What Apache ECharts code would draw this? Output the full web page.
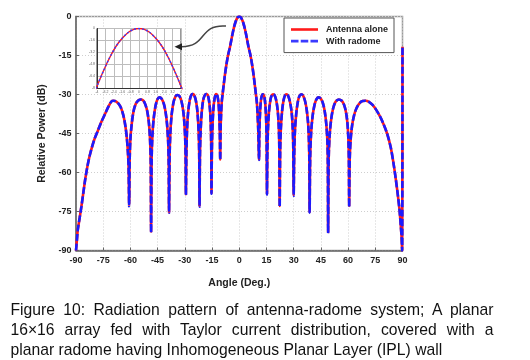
<!DOCTYPE html>
<html>
<head>
<meta charset="utf-8">
<script src="https://cdn.jsdelivr.net/npm/echarts@6/dist/echarts.min.js"></script>
<style>
html,body{margin:0;padding:0;background:#fff;}
#wrap{position:relative;width:530px;height:360px;overflow:hidden;}
#chart{position:absolute;left:0;top:0;width:530px;height:360px;}
.cap{position:absolute;left:10.5px;width:483px;font-family:"Liberation Sans",Arial,sans-serif;font-size:15.7px;line-height:20px;color:#111;white-space:nowrap;}
.just{text-align:justify;text-align-last:justify;white-space:normal;}
</style>
</head>
<body>
<div id="wrap">
<div id="chart"></div>
<div class="cap just" style="top:300px;">Figure 10: Radiation pattern of antenna-radome system; A planar</div>
<div class="cap just" style="top:320px;">16×16 array fed with Taylor current distribution, covered with a</div>
<div class="cap" style="top:339.5px;">planar radome having Inhomogeneous Planar Layer (IPL) wall</div>
</div>
<script>
const seriesNames = ['Antenna alone', 'With radome'];
const xTickValues = [-90, -75, -60, -45, -30, -15, 0, 15, 30, 45, 60, 75, 90];
const yTickValues = [0, -15, -30, -45, -60, -75, -90];

const angles = [
-90,-89.5,-89,-88,-87,-86,-85,-84,-83,-82,-80,-78,-76,-74,-72,-70.5,-69.4,-68,-66.5,-65,-63.8,-62.8,-62,-61.4,-61,-60.7,
-60.4,-60,-59.3,-58.3,-57,-55.5,-54.3,-53,-51.8,-50.7,-49.8,-49.2,-48.8,-48.6,
-48.3,-47.9,-47.2,-46.2,-45.1,-44,-42.8,-41.6,-40.6,-39.8,-39.2,-38.9,-38.7,
-38.4,-38,-37.3,-36.3,-35.2,-34.1,-33,-31.9,-31,-30.3,-29.8,-29.55,-29.4,
-29.15,-28.8,-28.2,-27.3,-26.5,-25.8,-25,-24.1,-23.3,-22.7,-22.25,-22.05,-21.9,
-21.65,-21.3,-20.7,-19.9,-19,-18.2,-17.4,-16.7,-16.1,-15.7,-15.45,-15.3,
-15.1,-14.8,-14.3,-13.6,-12.7,-12,-11.4,-11,-10.7,-10.5,
-10.3,-10,-9.6,-9.2,-8.6,-8,-7.3,-6.6,-6,-5.3,-4.6,-4,-3.4,-2.8,-2.2,-1.6,-1,-0.5,0,
0.5,1,1.6,2.2,2.8,3.4,4,4.6,5.3,6,6.6,7.3,8,8.6,9.2,9.7,10.1,10.5,10.9,
11.1,11.5,12.1,13,13.8,14.4,14.85,15.1,15.3,
15.5,15.85,16.4,17.2,18,18.7,19.5,20.3,21.1,21.7,22.05,22.3,
22.55,22.95,23.6,24.4,25.2,26,26.9,27.8,28.7,29.35,29.75,30,
30.3,30.7,31.4,32.3,33.2,34.2,35.2,36.2,37.1,37.9,38.4,38.65,38.8,
39.1,39.6,40.4,41.5,42.6,43.8,45,46.2,47.2,48,48.6,48.85,49,
49.3,49.8,50.6,51.7,53.1,54.9,56.5,57.8,58.9,59.7,60.2,60.45,60.6,
60.9,61.4,62.2,63.3,64.8,66.5,68,69.6,71.5,73.5,75.5,77.5,79.5,81.5,83.5,85,86.3,87.4,88.3,89,89.5,89.8,90
];

const antennaAlone = [
-90,-86,-82,-77.5,-73,-68,-63,-58.8,-55.2,-52.3,-47.5,-44,-40.5,-37.5,-34.5,-32.7,-32.4,-32.6,-33.6,-35.5,-38.3,-42,-46.5,-52,-58,-72.5,
-55,-47,-41.5,-36.5,-33.5,-32.2,-31.9,-32.3,-33.8,-36.5,-41,-47,-56,-82.8,
-55,-46,-39.5,-34.5,-31.8,-31.1,-31.6,-33.5,-36.8,-41.5,-48,-56,-75.3,
-54,-45,-38,-33.2,-30.8,-30.2,-30.6,-32.5,-35.8,-40.5,-47,-55,-68.4,
-53,-44,-37,-32.2,-30.3,-29.8,-30.1,-31.8,-35,-40,-47,-55,-72.9,
-53,-44,-37,-32.2,-30.3,-29.8,-30.2,-32.2,-36,-41.5,-50,-68,
-52,-43,-36,-31.5,-29.8,-30.6,-33.5,-38.5,-45,-55,
-44,-37.5,-32.5,-30,-26.5,-23,-19.5,-16.5,-14.3,-12.3,-9.9,-7.7,-5.7,-3.9,-2.4,-1.3,-0.5,-0.12,0,
-0.12,-0.5,-1.3,-2.4,-3.9,-5.7,-7.7,-9.9,-12.3,-14.3,-16.5,-19.5,-23,-26.5,-30,-33,-37.5,-44,-55,
-44,-36.5,-31.5,-29.9,-30.8,-34,-40,-48,-68.3,
-52,-43,-36.5,-32,-30.2,-29.9,-30.3,-32,-35.5,-41,-49,-72.9,
-52,-43,-36.5,-32.3,-30.4,-29.9,-30.4,-32.3,-35.8,-41,-49,-68.7,
-53,-44,-37.5,-32.8,-30.6,-29.9,-30.4,-32.3,-35.5,-40.5,-47.5,-56,-75.3,
-54,-45,-38.5,-34,-31.8,-31.1,-31.6,-33.5,-36.8,-41.5,-48,-57,-83,
-55,-46,-40,-35.5,-32.8,-31.9,-32.4,-34,-37,-41.5,-48,-56,-72.9,
-55,-47.5,-42,-38,-35,-33.2,-32.5,-32.4,-32.8,-34,-35.9,-38.3,-41.3,-45,-50.3,-56.3,-62.5,-68.5,-74,-80,-85,-90,-11.6
];

const withRadome = [
-90,-86,-82,-77.5,-73,-68,-63,-58.8,-55.2,-52.3,-47.5,-44,-40.5,-37.5,-34.5,-32.7,-32.4,-32.6,-33.6,-35.5,-38.3,-42,-46.5,-52,-58,-73,
-55,-47,-41.5,-36.5,-33.5,-32.2,-31.9,-32.3,-33.8,-36.5,-41,-47,-56,-83.2,
-55,-46,-39.5,-34.5,-31.8,-31.1,-31.6,-33.5,-36.8,-41.5,-48,-56,-75.5,
-54,-45,-38,-33.2,-30.8,-30.2,-30.6,-32.5,-35.8,-40.5,-47,-55,-68.6,
-53,-44,-37,-32.2,-30.3,-29.8,-30.1,-31.8,-35,-40,-47,-55,-73.2,
-53,-44,-37,-32.2,-30.3,-29.8,-30.2,-32.2,-36,-41.5,-50,-68.2,
-52,-43,-36,-31.5,-29.8,-30.6,-33.5,-38.5,-45,-55.2,
-44,-37.5,-32.5,-30,-26.5,-23,-19.5,-16.5,-14.3,-12.3,-9.9,-7.7,-5.7,-3.9,-2.4,-1.3,-0.5,-0.12,0,
-0.12,-0.5,-1.3,-2.4,-3.9,-5.7,-7.7,-9.9,-12.3,-14.3,-16.5,-19.5,-23,-26.5,-30,-33,-37.5,-44,-55.2,
-44,-36.5,-31.5,-29.9,-30.8,-34,-40,-48,-68.5,
-52,-43,-36.5,-32,-30.2,-29.9,-30.3,-32,-35.5,-41,-49,-73.2,
-52,-43,-36.5,-32.3,-30.4,-29.9,-30.4,-32.3,-35.8,-41,-49,-69,
-53,-44,-37.5,-32.8,-30.6,-29.9,-30.4,-32.3,-35.5,-40.5,-47.5,-56,-75.5,
-54,-45,-38.5,-34,-31.8,-31.1,-31.6,-33.5,-36.8,-41.5,-48,-57,-83.3,
-55,-46,-40,-35.5,-32.8,-31.9,-32.4,-34,-37,-41.5,-48,-56,-73.2,
-55,-47.5,-42,-38,-35,-33.2,-32.5,-32.4,-32.8,-34,-35.9,-38.3,-41.3,-45,-50.3,-56.3,-62.5,-68.5,-74,-80,-85,-90,-11.6
];

const chart = echarts.init(document.getElementById('chart'), null, {renderer: 'canvas'});
const FONT = '"Liberation Sans", Arial, sans-serif';
const dataA = angles.map((a, i) => [a, antennaAlone[i]]);
const dataB = angles.map((a, i) => [a, withRadome[i]]);

const option = {
  backgroundColor: '#fff',
  animation: false,
  textStyle: {fontFamily: FONT},
  legend: {
    data: [
      {name: seriesNames[0], icon: 'path://M0,0H27V2.6H0Z'},
      {name: seriesNames[1], icon: 'path://M0,0H7.5V2.6H0Z M9.75,0H17.25V2.6H9.75Z M19.5,0H27V2.6H19.5Z'}
    ],
    orient: 'vertical',
    left: 284, top: 18,
    padding: [7, 6, 7, 7],
    itemWidth: 27, itemHeight: 10, itemGap: 2.6,
    backgroundColor: '#fff',
    borderColor: '#555', borderWidth: 1,
    textStyle: {fontFamily: FONT, fontWeight: 'bold', fontSize: 9, color: '#222', padding: [0, 0, 0, 3]}
  },
  grid: [
    {left: 76, right: 127.5, top: 16.5, bottom: 109.5, show: true, borderColor: '#9a9a9a', borderWidth: 1.5, backgroundColor: '#fff'},
    {left: 97, top: 28.5, width: 84, height: 60, show: true, borderColor: '#333', borderWidth: 1, backgroundColor: '#fff', z: 5}
  ],
  xAxis: [
    {
      type: 'value', gridIndex: 0, min: -90, max: 90, interval: 15,
      name: 'Angle (Deg.)', nameLocation: 'middle', nameGap: 27,
      nameTextStyle: {fontFamily: FONT, fontWeight: 'bold', fontSize: 10.5, color: '#222'},
      axisLine: {onZero: false, lineStyle: {color: '#666', width: 1.5}},
      axisTick: {inside: true, length: 3, lineStyle: {color: '#666'}},
      axisLabel: {fontFamily: FONT, fontWeight: 'bold', fontSize: 9, color: '#222', margin: 6,
        formatter: v => xTickValues.includes(v) ? String(v) : ''},
      splitLine: {show: true, lineStyle: {color: '#cfcfcf', type: [1, 2], width: 1}}
    },
    {
      type: 'value', gridIndex: 1, min: -4, max: 4, interval: 0.8,
      axisLine: {onZero: false, lineStyle: {color: '#333', width: 1}},
      axisTick: {show: false},
      axisLabel: {fontSize: 3.5, color: '#666', margin: 2},
      splitLine: {show: true, lineStyle: {color: '#bdbdbd', width: 1}},
      z: 6
    }
  ],
  yAxis: [
    {
      type: 'value', gridIndex: 0, min: -90, max: 0, interval: 15,
      name: 'Relative Power (dB)', nameLocation: 'middle', nameGap: 20, nameRotate: 90,
      nameTextStyle: {fontFamily: FONT, fontWeight: 'bold', fontSize: 10.5, color: '#222'},
      axisLine: {onZero: false, lineStyle: {color: '#666', width: 1.5}},
      axisTick: {inside: true, length: 3, lineStyle: {color: '#666'}},
      axisLabel: {fontFamily: FONT, fontWeight: 'bold', fontSize: 9, color: '#222', margin: 4.5,
        formatter: v => yTickValues.includes(v) ? String(v) : ''},
      splitLine: {show: true, lineStyle: {color: '#cfcfcf', type: [1, 2], width: 1}}
    },
    {
      type: 'value', gridIndex: 1, min: -8, max: 0, interval: 1.6,
      axisLine: {onZero: false, lineStyle: {color: '#333', width: 1}},
      axisTick: {show: false},
      axisLabel: {fontSize: 3.5, color: '#666', margin: 2},
      splitLine: {show: true, lineStyle: {color: '#bdbdbd', width: 1}},
      z: 6
    }
  ],
  series: [
    {
      name: seriesNames[0], type: 'line', xAxisIndex: 0, yAxisIndex: 0,
      data: dataA, showSymbol: false, symbol: 'none', smooth: 0.3,
      lineStyle: {color: '#ff1a1a', width: 2.6}, itemStyle: {color: '#ff1a1a'}, z: 3
    },
    {
      name: seriesNames[1], type: 'line', xAxisIndex: 0, yAxisIndex: 0,
      data: dataB, showSymbol: false, symbol: 'none', smooth: 0.3,
      lineStyle: {color: '#1a1aff', width: 2.6, type: [7, 2.5]}, itemStyle: {color: '#3a3aff'}, z: 4
    },
    {
      name: seriesNames[0] + ' (inset)', type: 'line', xAxisIndex: 1, yAxisIndex: 1,
      data: dataA, showSymbol: false, symbol: 'none', smooth: 0.3, clip: true,
      lineStyle: {color: '#ff1a1a', width: 1.4}, z: 7
    },
    {
      name: seriesNames[1] + ' (inset)', type: 'line', xAxisIndex: 1, yAxisIndex: 1,
      data: dataB, showSymbol: false, symbol: 'none', smooth: 0.3, clip: true,
      lineStyle: {color: '#3a3aff', width: 1.4, type: [2, 2]}, z: 8
    }
  ],
  graphic: [
    {
      type: 'bezierCurve', z: 20,
      shape: {x1: 226, y1: 26, cpx1: 198, cpy1: 24, cpx2: 208, cpy2: 47, x2: 181, y2: 46.7},
      style: {stroke: '#444', lineWidth: 1.5, fill: null}
    },
    {
      type: 'polygon', z: 20,
      shape: {points: [[174.5, 46.7], [182, 43.2], [182, 50.2]]},
      style: {fill: '#222'}
    }
  ]
};
chart.setOption(option);
</script>
</body>
</html>
